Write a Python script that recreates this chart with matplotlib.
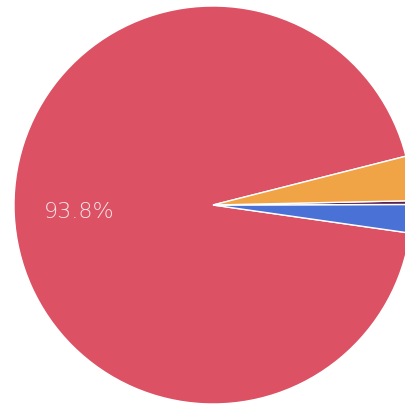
import matplotlib
matplotlib.use("Agg")
import matplotlib.pyplot as plt

# Slice values (percent), in counter-clockwise drawing order.
labels = ["Red", "Blue", "Purple", "Orange"]
shares = [93.8, 2.3, 0.3, 3.6]
colors = ["#dc5264", "#4a72d6", "#5a2050", "#f0a446"]


def show_big(pct):
    # Only the large slice carries a label.
    return f"{pct:.1f}%" if pct > 10 else ""


if __name__ == "__main__":
    fig = plt.figure(figsize=(4.05, 4.04), dpi=100)
    fig.patch.set_facecolor("white")

    # Pie centre at (213, 205) px with radius ~199 px; the right edge runs off the figure.
    ax = fig.add_axes([(213 - 199) / 405, (404 - 205 - 199) / 404, 398 / 405, 398 / 404])
    ax.set_xlim(-1, 1)
    ax.set_ylim(-1, 1)
    ax.set_aspect("equal")
    ax.axis("off")

    wedges, texts, autotexts = ax.pie(
        shares,
        colors=colors,
        startangle=14.2,
        counterclock=True,
        radius=1.0,
        autopct=show_big,
        pctdistance=0.675,
        wedgeprops={"edgecolor": "white", "linewidth": 1.0},
        textprops={"color": "#f8e4e8", "fontsize": 16, "fontweight": "light"},
    )
    ax.set_xlim(-1, 1)
    ax.set_ylim(-1, 1)
    for w in wedges:
        w.set_clip_on(False)

    fig.savefig("out.png", dpi=100, facecolor="white")
